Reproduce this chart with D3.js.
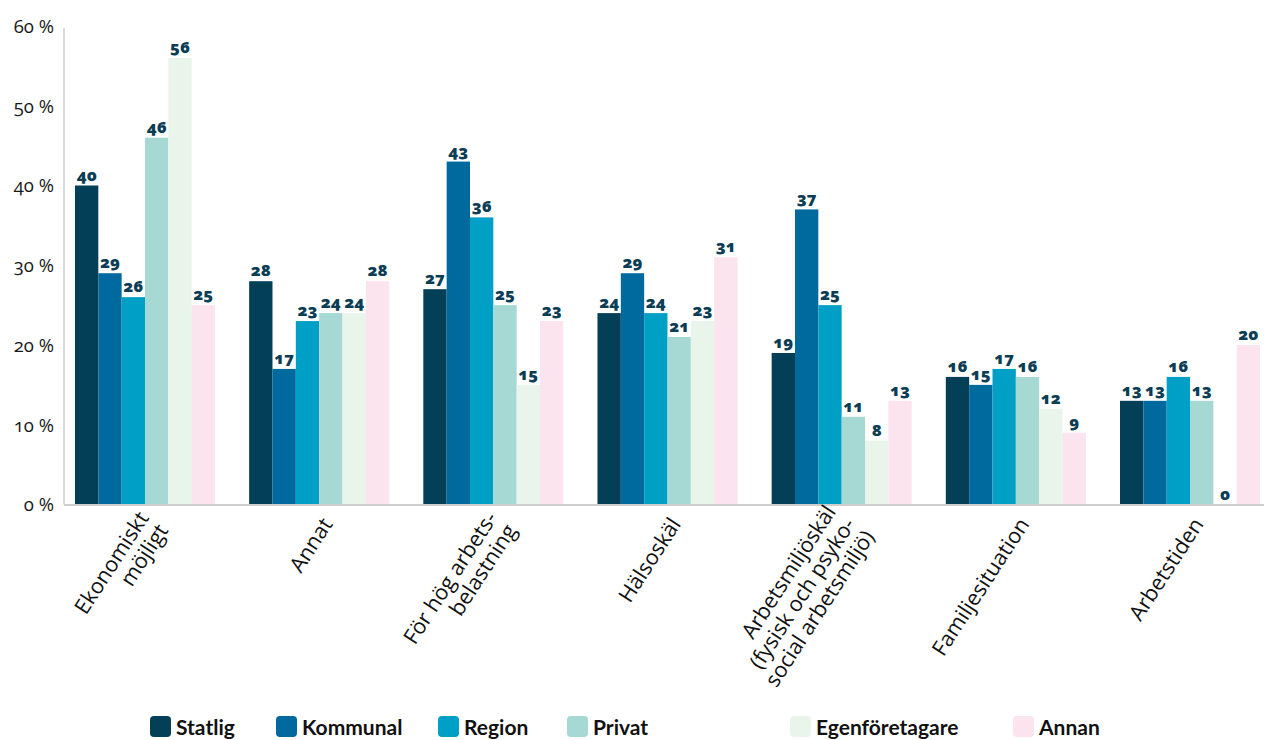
<!DOCTYPE html>
<html>
<head>
<meta charset="utf-8">
<script src="https://cdn.jsdelivr.net/npm/d3@7"></script>
<style>
  html, body { margin: 0; padding: 0; background: #fff; }
  svg { display: block; }
  .tick-label { font-family: "Open Sans", sans-serif; font-size: 18.5px; fill: #1a1a1a; font-variant-numeric: oldstyle-nums; }
  .cat-label { font-family: "Open Sans", sans-serif; font-size: 21.5px; fill: #111; }
  .val-label { font-family: "Open Sans", sans-serif; font-size: 16.5px; font-weight: 800; fill: #0b3d55; font-variant-numeric: oldstyle-nums; }
  .legend-label { font-family: Lato, sans-serif; font-size: 21px; font-weight: 700; fill: #111; }
</style>
</head>
<body>
<svg id="chart" width="1264" height="740"></svg>
<script>
// Reasons for leaving, share of respondents (%) per employer sector
const categories = [
  ["Ekonomiskt", "möjligt"],
  ["Annat"],
  ["För hög arbets-", "belastning"],
  ["Hälsoskäl"],
  ["Arbetsmiljöskäl", "(fysisk och psyko-", "social arbetsmiljö)"],
  ["Familjesituation"],
  ["Arbetstiden"]
];
const series = ["Statlig", "Kommunal", "Region", "Privat", "Egenföretagare", "Annan"];
const statlig        = [40, 28, 27, 24, 19, 16, 13];
const kommunal       = [29, 17, 43, 29, 37, 15, 13];
const region         = [26, 23, 36, 24, 25, 17, 16];
const privat         = [46, 24, 25, 21, 11, 16, 13];
const egenforetagare = [56, 24, 15, 23,  8, 12,  0];
const annan          = [25, 28, 23, 31, 13,  9, 20];
const yTicks = [0, 10, 20, 30, 40, 50, 60];

const values = [statlig, kommunal, region, privat, egenforetagare, annan];
const colors = ["#033f57", "#00699e", "#00a0c6", "#a6d8d4", "#e9f4eb", "#fce4ef"];

// Legend layout (x of each swatch)
const legendX = [150, 276, 438, 567, 790, 1013];

const svg = d3.select("#chart");
const x0Left = 64, yTop = 26, yBottom = 504.5;

const x0 = d3.scaleBand()
  .domain(d3.range(categories.length))
  .range([64, 1271])
  .paddingInner(0.196)
  .paddingOuter(0.063);

const x1 = d3.scaleBand()
  .domain(series)
  .range([0, x0.bandwidth()]);

const y = d3.scaleLinear().domain([0, 60]).range([yBottom, yTop]);

// Bars
const groups = svg.append("g").selectAll("g")
  .data(categories)
  .join("g")
  .attr("transform", (d, i) => `translate(${x0(i)},0)`);

groups.selectAll("rect")
  .data((d, i) => series.map((s, j) => ({ s, j, v: values[j][i] })))
  .join("rect")
  .attr("x", d => x1(d.s))
  .attr("width", x1.bandwidth())
  .attr("y", d => y(d.v))
  .attr("height", d => y(0) - y(d.v))
  .attr("fill", d => colors[d.j]);

groups.selectAll("text.val-label")
  .data((d, i) => series.map((s, j) => ({ s, j, v: values[j][i] })))
  .join("text")
  .attr("class", "val-label")
  .attr("x", d => x1(d.s) + x1.bandwidth() / 2)
  .attr("y", d => y(d.v) - 5)
  .attr("text-anchor", "middle")
  .text(d => d.v);

// Y axis
const yAxis = d3.axisLeft(y).tickValues(yTicks).tickSize(0).tickPadding(10)
  .tickFormat(d => d + " %");
const yg = svg.append("g").attr("transform", `translate(${x0Left},0)`).call(yAxis);
yg.select(".domain").attr("stroke", "#cfcfcf").attr("stroke-width", 1.5)
  .attr("d", `M0,${yTop + 2}V${yBottom}`);
yg.selectAll("text").attr("class", "tick-label").attr("dy", "0.35em");

// Baseline
svg.append("line")
  .attr("x1", x0Left).attr("x2", 1264)
  .attr("y1", yBottom + 0.5).attr("y2", yBottom + 0.5)
  .attr("stroke", "#cfcfcf").attr("stroke-width", 2);

// Category labels, rotated
const lh = 23;
svg.append("g").selectAll("text")
  .data(categories)
  .join("text")
  .attr("class", "cat-label")
  .attr("text-anchor", "end")
  .attr("transform", (d, i) => `translate(${x0(i) + x0.bandwidth() / 2 + 8},520) rotate(-57)`)
  .each(function (lines) {
    const t = d3.select(this);
    const off = -(lines.length - 1) / 2 * lh;
    lines.forEach((line, k) => {
      t.append("tspan").attr("x", 0).attr("y", off + k * lh).attr("dy", "0.35em").text(line);
    });
  });

// Legend
const lg = svg.append("g").selectAll("g")
  .data(series)
  .join("g")
  .attr("transform", (d, i) => `translate(${legendX[i]},716)`);
lg.append("rect").attr("width", 21).attr("height", 21).attr("rx", 4)
  .attr("fill", (d, i) => colors[i]);
lg.append("text").attr("class", "legend-label").attr("x", 26).attr("y", 18.5).text(d => d);
</script>
</body>
</html>
